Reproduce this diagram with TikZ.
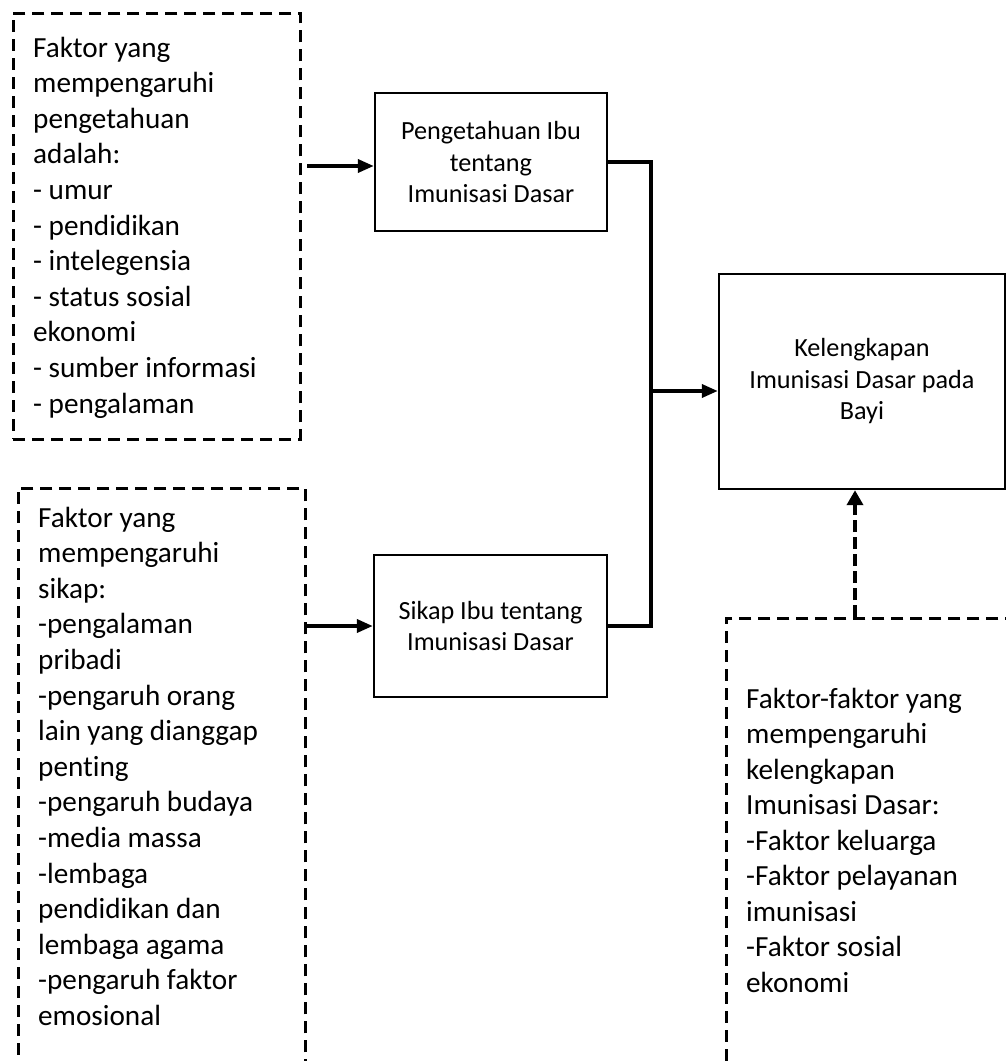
\documentclass[tikz,border=0pt]{standalone}
\usepackage{fontspec}
\setmainfont{Carlito}[Ligatures=NoCommon]
\usetikzlibrary{arrows.meta}
\tikzset{
  bigtxt/.style={font=\fontsize{29.2}{35.6}\selectfont, inner sep=0pt, anchor=base west},
  sbox/.style={draw, line width=2.4pt, align=center, inner sep=0pt,
               font=\fontsize{26.2}{31.5}\selectfont},
  dbox/.style={draw, dash pattern=on 12pt off 7pt, line width=2.5pt, inner sep=0pt, anchor=north west},
  conn/.style={line width=3.6pt},
  arr/.style={conn, -{Triangle[length=16pt,width=13pt]}},
  darr/.style={line width=4pt, dash pattern=on 12pt off 5pt, -{Triangle[length=15pt,width=16pt]}},
}
\begin{document}
\begin{tikzpicture}[x=1pt, y=-1pt]
\clip (0,0) rectangle (1006,1061);
\fill[white] (0,0) rectangle (1006,1061);

% dashed factor boxes
\node[dbox, minimum width=287pt, minimum height=426pt] (f1) at (12,12) {};
\node[dbox, minimum width=287pt, minimum height=600pt] (f2) at (17,487) {};
\node[dbox, minimum width=300pt, minimum height=470pt] (f3) at (725,617) {};

\node[bigtxt] (t1) at (33,57) {\parbox[t]{260pt}{\raggedright
Faktor yang\\ mempengaruhi\\ pengetahuan\\ adalah:\\ - umur\\ - pendidikan\\ - intelegensia\\ - status sosial\\ ekonomi\\ - sumber informasi\\ - pengalaman}};

\node[bigtxt] (t2) at (38,527) {\parbox[t]{260pt}{\raggedright
Faktor yang\\ mempengaruhi\\ sikap:\\ -pengalaman\\ pribadi\\ -pengaruh orang\\ lain yang dianggap\\ penting\\ -pengaruh budaya\\ -media massa\\ -lembaga\\ pendidikan dan\\ lembaga agama\\ -pengaruh faktor\\ emosional}};

\node[bigtxt, font=\fontsize{29.2}{35.5}\selectfont] (t3) at (746,708) {\parbox[t]{260pt}{\raggedright
Faktor-faktor yang\\ mempengaruhi\\ kelengkapan\\ Imunisasi Dasar:\\ -Faktor keluarga\\ -Faktor pelayanan\\ imunisasi\\ -Faktor sosial\\ ekonomi}};

% solid boxes
\node[sbox, minimum width=232pt, minimum height=138pt] (pk) at (491,162) {Pengetahuan Ibu\\ tentang\\ Imunisasi Dasar};
\node[sbox, minimum width=233pt, minimum height=142pt] (sk) at (490.5,626) {Sikap Ibu tentang\\ Imunisasi Dasar};
\node[sbox, minimum width=286pt, minimum height=215pt] (kl) at (862,381.5) {Kelengkapan\\ Imunisasi Dasar pada\\ Bayi};

% connectors
\coordinate (a1) at (307,166);
\coordinate (a2) at (305,626);
\coordinate (j) at (651,391);
\coordinate (d1) at (855,617);

\draw[arr] (a1) -- (a1 -| pk.west);
\draw[arr] (a2) -- (a2 -| sk.west);
\draw[conn] (pk.east) -| (j) |- (sk.east);
\draw[arr] (j) -- (j -| kl.west);
\draw[darr] (d1) -- (d1 |- kl.south);
\end{tikzpicture}
\end{document}
